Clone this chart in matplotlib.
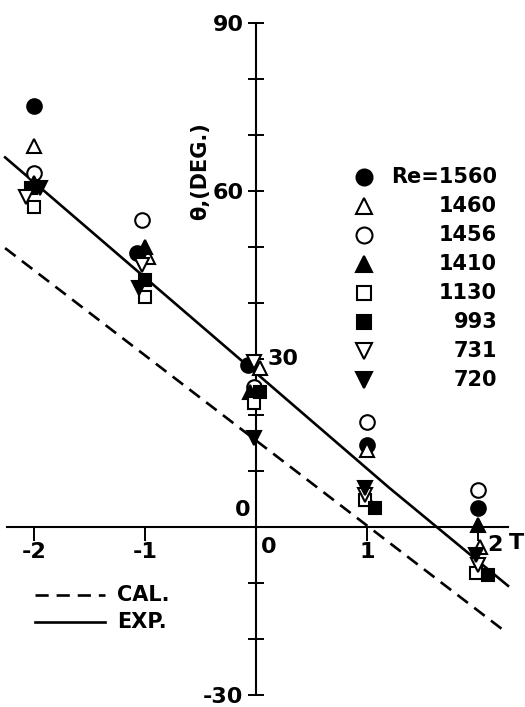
import matplotlib.pyplot as plt

plt.rcParams['font.family'] = ['DejaVu Sans']
plt.rcParams['font.weight'] = 'bold'

# data: T and theta (deg) per Reynolds number
re_labels = ['Re=1560', '1460', '1456', '1410', '1130', '993', '731', '720']
markers = ['o', '^', 'o', '^', 's', 's', 'v', 'v']
filled = [True, False, False, True, False, True, False, True]

t_1560 = [-2.0, -1.07, -0.07, 1.0, 2.0]
th_1560 = [75.2, 48.9, 28.9, 14.6, 3.4]
t_1460 = [-2.0, -0.97, 0.04, 1.0, 2.02]
th_1460 = [68.0, 48.2, 28.4, 13.8, -3.6]
t_1456 = [-2.0, -1.03, -0.02, 1.0, 2.0]
th_1456 = [63.2, 54.8, 25.0, 18.8, 6.6]
t_1410 = [-2.0, -1.0, -0.05, 1.0, 2.0]
th_1410 = [61.5, 50.0, 24.1, 5.0, 0.4]
t_1130 = [-2.0, -1.0, -0.02, 0.98, 1.98]
th_1130 = [57.1, 41.1, 22.1, 4.8, -8.2]
t_993 = [-2.03, -1.0, 0.04, 1.07, 2.09]
th_993 = [60.5, 44.1, 24.1, 3.4, -8.6]
t_731 = [-2.07, -1.03, -0.02, 0.98, 2.0]
th_731 = [59.0, 46.8, 29.5, 5.8, -6.8]
t_720 = [-1.95, -1.05, -0.02, 0.98, 1.98]
th_720 = [60.5, 42.7, 15.9, 7.0, -5.0]

series_t = [t_1560, t_1460, t_1456, t_1410, t_1130, t_993, t_731, t_720]
series_th = [th_1560, th_1460, th_1456, th_1410, th_1130, th_993, th_731, th_720]

# calculated and experimental lines
cal_t = [-2.26, 2.26]
cal_th = [49.8, -18.9]
exp_t = [-2.26, 0.0, 1.2, 2.27]
exp_th = [66.0, 27.5, 7.0, -10.5]

fig = plt.figure(figsize=(5.25, 7.07), dpi=100)
ax = fig.add_axes([0, 0, 1, 1])
ax.set_xlim(-2.306, 2.423)
ax.set_ylim(-32.14, 94.1)

ax.plot(cal_t, cal_th, color='black', lw=1.9, dashes=(5, 3), zorder=2)
ax.plot(exp_t, exp_th, color='black', lw=1.9, zorder=2)

sizes = {'o': 10.5, '^': 10.5, 'v': 10.5, 's': 9}
for t, th, m, f in zip(series_t, series_th, markers, filled):
    ax.plot(t, th, ls='none', marker=m, ms=sizes[m], mec='black', mew=1.5,
            mfc='black' if f else 'white', zorder=3)

# axes through the origin
for s in ['top', 'right']:
    ax.spines[s].set_visible(False)
ax.spines['left'].set_position(('data', 0))
ax.spines['bottom'].set_position(('data', 0))
ax.spines['left'].set_bounds(-30, 90)
ax.spines['bottom'].set_bounds(-2.24, 2.27)
ax.spines['left'].set_linewidth(1.5)
ax.spines['bottom'].set_linewidth(1.5)

yt = list(range(-30, 91, 10))
ax.set_yticks(yt)
ax.set_yticklabels(['-30' if v == -30 else '60' if v == 60 else '90' if v == 90 else '' for v in yt])
ax.tick_params(axis='y', direction='inout', length=12, width=1.4, labelsize=16, pad=3)

ax.set_xticks([-2, -1, 1, 2])
ax.set_xticklabels(['-2', '-1', '1', ''])
ax.tick_params(axis='x', direction='out', length=10, width=1.4, labelsize=16, pad=1)

ax.text(-0.05, 3.0, '0', fontsize=16, ha='right', va='center')
ax.text(0.1, 30, '30', fontsize=16, ha='left', va='center')
ax.text(0.11, -3.6, '0', fontsize=16, ha='center', va='center')
ax.text(2.15, -3.3, '2', fontsize=16, ha='center', va='center')
ax.text(2.415, -2.9, 'T', fontsize=16, ha='right', va='center')
ax.text(-0.5, 63.5, 'θ,(DEG.)', fontsize=15, rotation=90, ha='center', va='center')

# marker legend, numbers right aligned
for i, (lab, m, f) in enumerate(zip(re_labels, markers, filled)):
    yy = 1 - (177 + 29 * i) / 707
    ax.plot([0.693], [yy], transform=ax.transAxes, marker=m, ms=sizes[m] + 1,
            mec='black', mew=1.5, mfc='black' if f else 'white', ls='none', clip_on=False)
    ax.text(0.947, yy, lab, transform=ax.transAxes, fontsize=15, ha='right', va='center')

# line legend
ax.plot([35 / 525, 105 / 525], [1 - 595 / 707] * 2, transform=ax.transAxes,
        color='black', lw=1.9, dashes=(5, 3))
ax.plot([35 / 525, 105 / 525], [1 - 622 / 707] * 2, transform=ax.transAxes,
        color='black', lw=1.9)
ax.text(117 / 525, 1 - 595 / 707, 'CAL.', transform=ax.transAxes, fontsize=15, va='center')
ax.text(117 / 525, 1 - 622 / 707, 'EXP.', transform=ax.transAxes, fontsize=15, va='center')

fig.savefig('out.png', dpi=100)
